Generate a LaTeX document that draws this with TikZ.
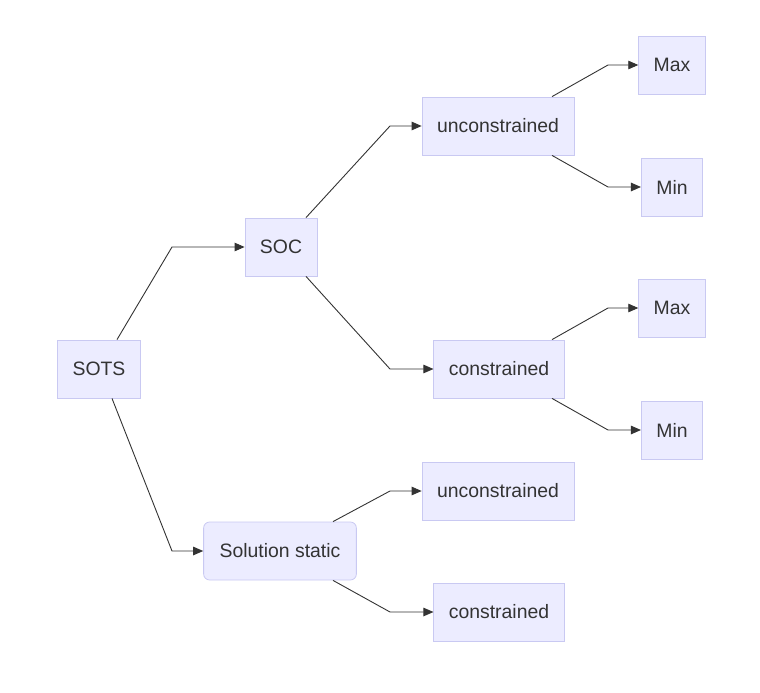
\documentclass[tikz,border=0pt]{standalone}
\usepackage{fontspec}
\setmainfont{Liberation Sans}
\usepackage{tikz}
\usetikzlibrary{arrows.meta}
\definecolor{boxfill}{HTML}{ECECFF}
\definecolor{boxline}{HTML}{C9C9F2}
\definecolor{ink}{HTML}{333333}

\begin{document}
\begin{tikzpicture}[x=1pt,y=-1pt,
    box/.style={draw=boxline,fill=boxfill,text=ink,line width=0.8pt,minimum height=58pt,inner xsep=15pt,font=\fontsize{19.4}{23}\selectfont},
    rbox/.style={box,rounded corners=6pt,inner xsep=16pt},
    arr/.style={draw=ink,line width=0.9pt,-{Triangle[length=10pt,width=8.5pt]}}]
    \useasboundingbox (0,0) rectangle (760,693);
    % boxes
    \node [box] (sots) at (99,369) {SOTS};
    \node [box] (soc) at (281,247) {SOC};
    \node [rbox] (sol) at (280,551) {Solution static};
    \node [box] (unc1) at (498,126) {unconstrained};
    \node [box] (con1) at (499,369) {constrained};
    \node [box] (unc2) at (498,491) {unconstrained};
    \node [box] (con2) at (499,612) {constrained};
    \node [box] (max1) at (672,65) {Max};
    \node [box] (min1) at (672,187) {Min};
    \node [box] (max2) at (672,308) {Max};
    \node [box] (min2) at (672,430) {Min};
    % links
    \draw [arr] ([xshift=18pt]sots.north) -- (172,247) -- (soc);
    \draw [arr] ([xshift=13pt]sots.south) -- (172,551) -- (sol);
    \draw [arr] ([xshift=25pt]soc.north) -- (390,126) -- (unc1);
    \draw [arr] ([xshift=25pt]soc.south) -- (390,369) -- (con1);
    \draw [arr] ([xshift=54pt]unc1.north) -- (608,65) -- (max1);
    \draw [arr] ([xshift=54pt]unc1.south) -- (608,187) -- (min1);
    \draw [arr] ([xshift=53pt]con1.north) -- (608,308) -- (max2);
    \draw [arr] ([xshift=53pt]con1.south) -- (608,430) -- (min2);
    \draw [arr] ([xshift=53pt]sol.north) -- (390,491) -- (unc2);
    \draw [arr] ([xshift=53pt]sol.south) -- (390,612) -- (con2);
\end{tikzpicture}
\end{document}
